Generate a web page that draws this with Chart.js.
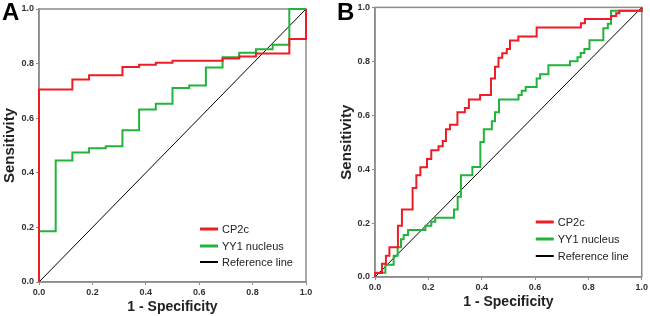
<!DOCTYPE html>
<html>
<head>
<meta charset="utf-8">
<script src="https://cdn.jsdelivr.net/npm/chart.js@4.4.1/dist/chart.umd.min.js"></script>
<style>
body{margin:0;background:#fff;}
#wrap{display:flex;width:650px;height:316px;}
canvas{display:block;}
</style>
</head>
<body>
<div id="wrap">
<canvas id="chartA" width="325" height="316"></canvas>
<canvas id="chartB" width="325" height="316"></canvas>
</div>
<script>
// ROC curves: x = 1 - specificity, y = sensitivity
const seriesNames = ['CP2c', 'YY1 nucleus', 'Reference line'];
const seriesColors = ['#ee1c25', '#22b33c', '#000000'];
const refX = [0, 1];
const refY = [0, 1];

// panel A
const cp2cA_x = [0, 0, 0.125, 0.1875, 0.3125, 0.375, 0.4375, 0.5, 0.6875, 0.75, 0.8125, 0.9375, 1.0, 1.0];
const cp2cA_y = [0, 0.705, 0.742, 0.757, 0.788, 0.796, 0.803, 0.81, 0.819, 0.826, 0.837, 0.89, 0.89, 1.0];
const yy1A_x = [0, 0, 0.0625, 0.125, 0.1875, 0.25, 0.3125, 0.375, 0.4375, 0.5, 0.5625, 0.625, 0.6875, 0.75, 0.8125, 0.875, 0.9375, 1.0];
const yy1A_y = [0, 0.186, 0.445, 0.474, 0.49, 0.497, 0.556, 0.632, 0.653, 0.711, 0.72, 0.786, 0.823, 0.84, 0.853, 0.869, 1.0, 1.0];

// panel B
const cp2cB_x = [0, 0, 0.026, 0.041, 0.054, 0.086, 0.101, 0.141, 0.155, 0.17, 0.195, 0.211, 0.238, 0.254, 0.266, 0.281, 0.309, 0.337, 0.352, 0.394, 0.435, 0.45, 0.463, 0.477, 0.494, 0.506, 0.5375, 0.606, 0.772, 0.787, 0.885, 0.904, 0.916, 1.0, 1.0];
const cp2cB_y = [0, 0.015, 0.049, 0.079, 0.11, 0.19, 0.25, 0.33, 0.377, 0.407, 0.438, 0.47, 0.485, 0.504, 0.548, 0.565, 0.611, 0.627, 0.658, 0.675, 0.736, 0.78, 0.813, 0.83, 0.846, 0.877, 0.892, 0.925, 0.941, 0.957, 0.968, 0.978, 0.988, 0.988, 1.0];
const yy1B_x = [0, 0, 0.039, 0.07, 0.085, 0.0975, 0.1075, 0.124, 0.189, 0.211, 0.226, 0.296, 0.31, 0.322, 0.365, 0.395, 0.408, 0.438, 0.45, 0.465, 0.538, 0.55, 0.565, 0.606, 0.619, 0.65, 0.731, 0.759, 0.771, 0.785, 0.804, 0.856, 0.873, 0.885, 1.0, 1.0];
const yy1B_y = [0, 0.016, 0.045, 0.079, 0.11, 0.14, 0.156, 0.174, 0.19, 0.205, 0.22, 0.25, 0.298, 0.377, 0.408, 0.501, 0.548, 0.578, 0.611, 0.658, 0.675, 0.691, 0.705, 0.736, 0.752, 0.785, 0.80, 0.815, 0.831, 0.846, 0.878, 0.923, 0.939, 0.988, 0.988, 1.0];

const pts = (xs, ys) => xs.map((x, i) => ({ x: x, y: ys[i] }));

// frame, legend inside plot and panel letter
const panelDeco = {
  id: 'panelDeco',
  beforeDatasetsDraw(chart) {
    const { ctx, chartArea: a } = chart;
    ctx.save();
    ctx.strokeStyle = '#8c8c8c';
    ctx.lineWidth = 1.5;
    ctx.strokeRect(a.left, a.top, a.right - a.left, a.bottom - a.top);
    ctx.restore();
  },
  afterDatasetsDraw(chart, args, opts) {
    const { ctx, chartArea: a } = chart;
    ctx.save();
    ctx.font = '11px "Liberation Sans", Arial, sans-serif';
    ctx.textBaseline = 'middle';
    chart.data.datasets.forEach((ds, i) => {
      const y = a.bottom - opts.rows[i];
      ctx.strokeStyle = ds.borderColor;
      ctx.lineWidth = i < 2 ? 3 : 2;
      ctx.beginPath();
      ctx.moveTo(a.right - 106, y);
      ctx.lineTo(a.right - 88, y);
      ctx.stroke();
      ctx.fillStyle = '#222';
      ctx.fillText(ds.label, a.right - 84, y + 0.5);
    });
    ctx.font = 'bold 24px "Liberation Sans", Arial, sans-serif';
    ctx.fillStyle = '#000';
    ctx.textBaseline = 'top';
    ctx.fillText(opts.letter, opts.lx, opts.ly);
    ctx.restore();
  }
};

function rocChart(id, red, green, p) {
  const tickFont = { family: '"Liberation Sans", Arial, sans-serif', size: 9, weight: 'bold' };
  const titleFont = { family: '"Liberation Sans", Arial, sans-serif', size: 15, weight: 'bold' };
  const axis = (title, pad) => ({
    type: 'linear', min: 0, max: 1,
    grid: { display: true, drawOnChartArea: false, drawTicks: true, tickLength: 3, color: '#8c8c8c' },
    border: { display: true, color: '#8c8c8c', width: 1.5 },
    ticks: { stepSize: 0.2, font: tickFont, color: '#333', padding: 2, maxRotation: 0, autoSkip: false,
      callback: v => v.toFixed(1) },
    title: { display: true, text: title, font: titleFont, color: '#222', padding: pad }
  });
  const xAxis = axis('1 - Specificity', { top: 0, bottom: p.xTitlePad });
  xAxis.title.font = Object.assign({}, titleFont, { size: 14 });
  xAxis.afterFit = s => { s.height = p.xh; };
  const yAxis = axis('Sensitivity', { top: p.yTitlePad, bottom: 0 });
  yAxis.afterFit = s => { s.width = p.yw; };

  return new Chart(document.getElementById(id), {
    type: 'line',
    data: {
      datasets: [
        { label: seriesNames[0], data: pts(red[0], red[1]), borderColor: seriesColors[0], borderWidth: 2, stepped: 'before', clip: 3 },
        { label: seriesNames[1], data: pts(green[0], green[1]), borderColor: seriesColors[1], borderWidth: 2, stepped: 'before', clip: 3 },
        { label: seriesNames[2], data: pts(refX, refY), borderColor: seriesColors[2], borderWidth: 1, clip: 3 }
      ]
    },
    options: {
      responsive: false,
      animation: false,
      devicePixelRatio: 1,
      elements: { point: { radius: 0 }, line: { tension: 0 } },
      layout: { padding: p.pad },
      scales: { x: xAxis, y: yAxis },
      plugins: {
        legend: { display: false },
        tooltip: { enabled: false },
        panelDeco: { rows: p.rows, letter: p.letter, lx: p.lx, ly: p.ly }
      }
    },
    plugins: [panelDeco]
  });
}

rocChart('chartA', [cp2cA_x, cp2cA_y], [yy1A_x, yy1A_y], {
  pad: { left: 0, right: 19, top: 9, bottom: 0 }, yw: 39, xh: 34,
  xTitlePad: 0, yTitlePad: 1, rows: [53, 36, 20], letter: 'A', lx: 2, ly: 1
});
rocChart('chartB', [cp2cB_x, cp2cB_y], [yy1B_x, yy1B_y], {
  pad: { left: 0, right: 8, top: 4, bottom: 0 }, yw: 50, xh: 39,
  xTitlePad: 5, yTitlePad: 13, rows: [55, 38, 21], letter: 'B', lx: 12, ly: 1
});
</script>
</body>
</html>
